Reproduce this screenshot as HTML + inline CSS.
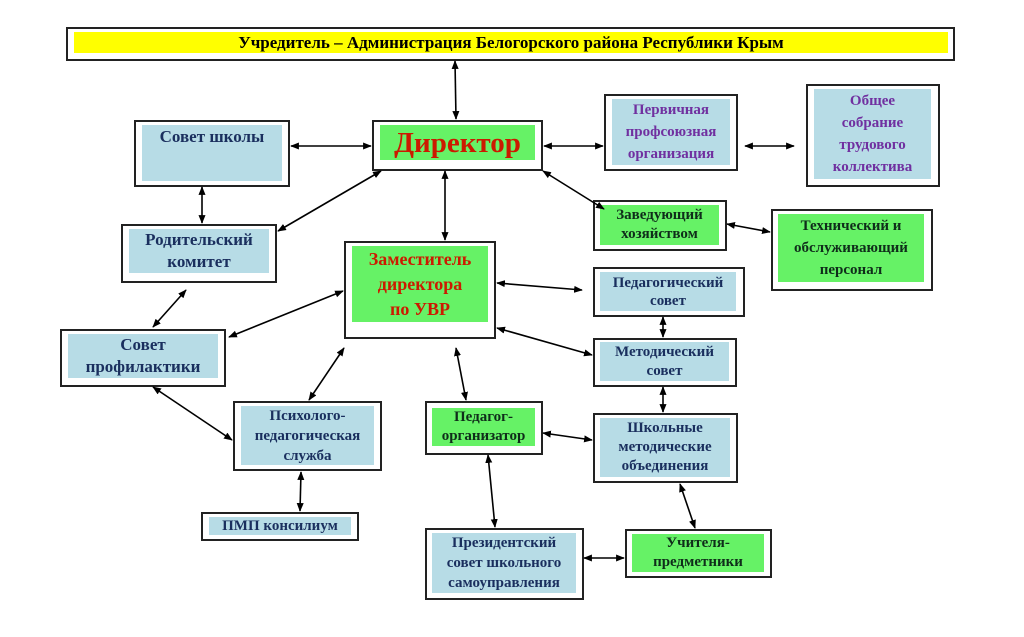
<!DOCTYPE html>
<html><head><meta charset="utf-8"><style>
body{margin:0;width:1024px;height:637px;background:#fff;position:relative;overflow:hidden;font-family:"Liberation Serif","DejaVu Serif",serif;font-weight:bold}
.o{position:absolute;border:2px solid #222;background:#fff;box-sizing:border-box}
.i{position:absolute;display:flex;flex-direction:column;align-items:center;justify-content:center;text-align:center;color:#1a2f5e;font-size:15px;line-height:22px}
.b{background:#b7dce6}.g{background:#66f266}
.p{color:#7030a0}.gt{color:#0f2d1a}.r{color:#cc1a00}
svg{position:absolute;left:0;top:0}
</style></head><body>
<div class="o" style="left:66px;top:27px;width:889px;height:34px"></div>
<div class="i" style="left:74px;top:32px;width:874px;height:21px;background:#ffff00;color:#000;font-size:17px">Учредитель – Администрация Белогорского района Республики Крым</div>

<div class="o" style="left:134px;top:120px;width:156px;height:67px"></div>
<div class="i b" style="left:142px;top:125px;width:140px;height:56px;justify-content:flex-start;font-size:17px;padding-top:1px;box-sizing:border-box">Совет школы</div>

<div class="o" style="left:372px;top:120px;width:171px;height:51px"></div>
<div class="i g r" style="left:380px;top:125px;width:155px;height:35px;font-size:29px">Директор</div>

<div class="o" style="left:121px;top:224px;width:156px;height:59px"></div>
<div class="i b" style="left:129px;top:229px;width:140px;height:44px;font-size:17px">Родительский<br>комитет</div>

<div class="o" style="left:344px;top:241px;width:152px;height:98px"></div>
<div class="i g r" style="left:352px;top:246px;width:136px;height:76px;font-size:18px;line-height:25px">Заместитель<br>директора<br>по УВР</div>

<div class="o" style="left:60px;top:329px;width:166px;height:58px"></div>
<div class="i b" style="left:68px;top:334px;width:150px;height:44px;font-size:17px">Совет<br>профилактики</div>

<div class="o" style="left:233px;top:401px;width:149px;height:70px"></div>
<div class="i b" style="left:241px;top:406px;width:133px;height:59px;line-height:20px">Психолого-<br>педагогическая<br>служба</div>

<div class="o" style="left:201px;top:512px;width:158px;height:29px"></div>
<div class="i b" style="left:209px;top:517px;width:142px;height:18px">ПМП консилиум</div>

<div class="o" style="left:425px;top:401px;width:118px;height:54px"></div>
<div class="i g gt" style="left:432px;top:408px;width:103px;height:38px;line-height:19px">Педагог-<br>организатор</div>

<div class="o" style="left:425px;top:528px;width:159px;height:72px"></div>
<div class="i b" style="left:432px;top:533px;width:144px;height:60px;line-height:20px">Президентский<br>совет школьного<br>самоуправления</div>

<div class="o" style="left:604px;top:94px;width:134px;height:77px"></div>
<div class="i b p" style="left:612px;top:99px;width:118px;height:66px">Первичная<br>профсоюзная<br>организация</div>

<div class="o" style="left:806px;top:84px;width:134px;height:103px"></div>
<div class="i b p" style="left:814px;top:89px;width:117px;height:90px">Общее<br>собрание<br>трудового<br>коллектива</div>

<div class="o" style="left:593px;top:200px;width:134px;height:51px"></div>
<div class="i g gt" style="left:600px;top:205px;width:119px;height:40px;line-height:19px">Заведующий<br>хозяйством</div>

<div class="o" style="left:771px;top:209px;width:162px;height:82px"></div>
<div class="i g gt" style="left:778px;top:214px;width:146px;height:68px">Технический и<br>обслуживающий<br>персонал</div>

<div class="o" style="left:593px;top:267px;width:152px;height:50px"></div>
<div class="i b" style="left:600px;top:272px;width:136px;height:39px;line-height:18px">Педагогический<br>совет</div>

<div class="o" style="left:593px;top:338px;width:144px;height:49px"></div>
<div class="i b" style="left:600px;top:342px;width:129px;height:39px;line-height:19px">Методический<br>совет</div>

<div class="o" style="left:593px;top:413px;width:145px;height:70px"></div>
<div class="i b" style="left:600px;top:418px;width:130px;height:59px;line-height:19px">Школьные<br>методические<br>объединения</div>

<div class="o" style="left:625px;top:529px;width:147px;height:49px"></div>
<div class="i g gt" style="left:632px;top:534px;width:132px;height:38px;line-height:19px">Учителя-<br>предметники</div>

<svg width="1024" height="637">
<defs><marker id="a" viewBox="0 0 10 10" refX="9" refY="5" markerWidth="5.5" markerHeight="5.5" orient="auto-start-reverse"><path d="M0,1L10,5L0,9z" fill="#000"/></marker></defs>
<g stroke="#000" stroke-width="1.6" marker-start="url(#a)" marker-end="url(#a)">
<line x1="455" y1="61" x2="456" y2="119"/>
<line x1="291" y1="146" x2="371" y2="146"/>
<line x1="544" y1="146" x2="603" y2="146"/>
<line x1="745" y1="146" x2="794" y2="146"/>
<line x1="202" y1="187" x2="202" y2="223"/>
<line x1="381" y1="171" x2="278" y2="231"/>
<line x1="445" y1="171" x2="445" y2="240"/>
<line x1="543" y1="171" x2="604" y2="209"/>
<line x1="727" y1="224" x2="770" y2="232"/>
<line x1="497" y1="283" x2="582" y2="290"/>
<line x1="497" y1="328" x2="592" y2="355"/>
<line x1="663" y1="317" x2="663" y2="337"/>
<line x1="663" y1="387" x2="663" y2="412"/>
<line x1="543" y1="433" x2="592" y2="440"/>
<line x1="680" y1="484" x2="695" y2="528"/>
<line x1="488" y1="455" x2="495" y2="527"/>
<line x1="584" y1="558" x2="624" y2="558"/>
<line x1="456" y1="348" x2="466" y2="400"/>
<line x1="344" y1="348" x2="309" y2="400"/>
<line x1="343" y1="291" x2="229" y2="337"/>
<line x1="186" y1="290" x2="153" y2="327"/>
<line x1="153" y1="387" x2="232" y2="440"/>
<line x1="301" y1="472" x2="300" y2="511"/>
</g></svg>
</body></html>
